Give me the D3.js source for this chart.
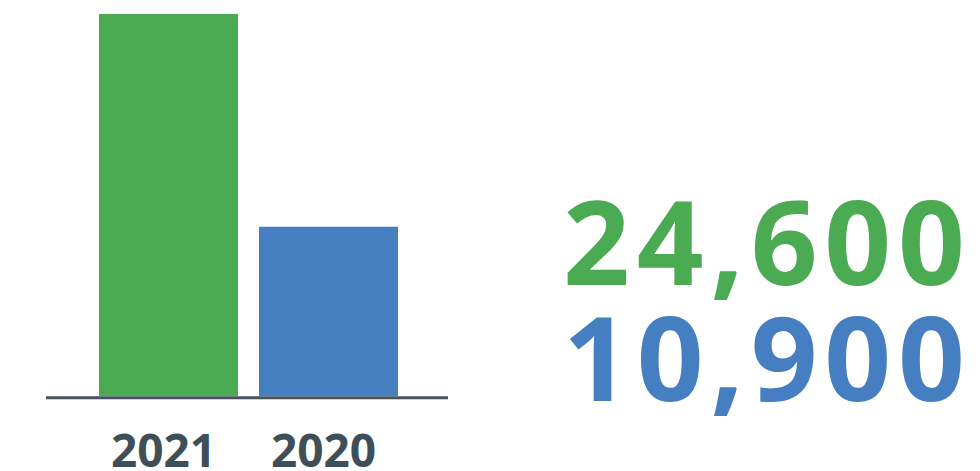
<!DOCTYPE html>
<html>
<head>
<meta charset="utf-8">
<script src="https://cdn.jsdelivr.net/npm/d3@7"></script>
<style>
  html, body { margin: 0; padding: 0; background: #fff; }
  svg { display: block; }
</style>
</head>
<body>
<div id="chart"></div>
<script>
// data
const years = ["2021", "2020"];
const values = [24600, 10900];
const colors = ["#4aab52", "#457ec1"];

const width = 980;
const height = 471;

const svg = d3.select("#chart").append("svg")
  .attr("width", width)
  .attr("height", height);

const xScale = d3.scaleBand()
  .domain(years)
  .range([78, 419])
  .padding(0.13125);

const yScale = d3.scaleLinear()
  .domain([0, d3.max(values)])
  .range([396, 14]);

// bars
svg.selectAll("rect.bar")
  .data(years)
  .enter().append("rect")
  .classed("bar", true)
  .attr("x", d => xScale(d))
  .attr("width", xScale.bandwidth())
  .attr("y", (d, i) => yScale(values[i]))
  .attr("height", (d, i) => yScale(0) - yScale(values[i]))
  .attr("fill", (d, i) => colors[i]);

// baseline
svg.append("line")
  .attr("x1", 46)
  .attr("x2", 448)
  .attr("y1", 397.8)
  .attr("y2", 397.8)
  .style("stroke", "#45525e")
  .style("stroke-width", 3);

// year labels
svg.selectAll("text.year")
  .data(years)
  .enter().append("text")
  .classed("year", true)
  .attr("x", d => xScale(d) + xScale.bandwidth() / 2 - 5)
  .attr("y", 467)
  .attr("text-anchor", "middle")
  .style("font-family", "'Open Sans', sans-serif")
  .style("font-weight", 700)
  .style("font-size", "46px")
  .style("fill", "#3f4f5a")
  .text(d => d);

// big totals
const fmt = d3.format(",");
svg.selectAll("text.total")
  .data(values)
  .enter().append("text")
  .classed("total", true)
  .attr("x", 563)
  .attr("y", (d, i) => 285 + i * 116)
  .attr("textLength", 402)
  .attr("lengthAdjust", "spacing")
  .style("font-family", "'Open Sans', sans-serif")
  .style("font-weight", 700)
  .style("font-size", "117px")
  .style("fill", (d, i) => colors[i])
  .text(d => fmt(d));
</script>
</body>
</html>
